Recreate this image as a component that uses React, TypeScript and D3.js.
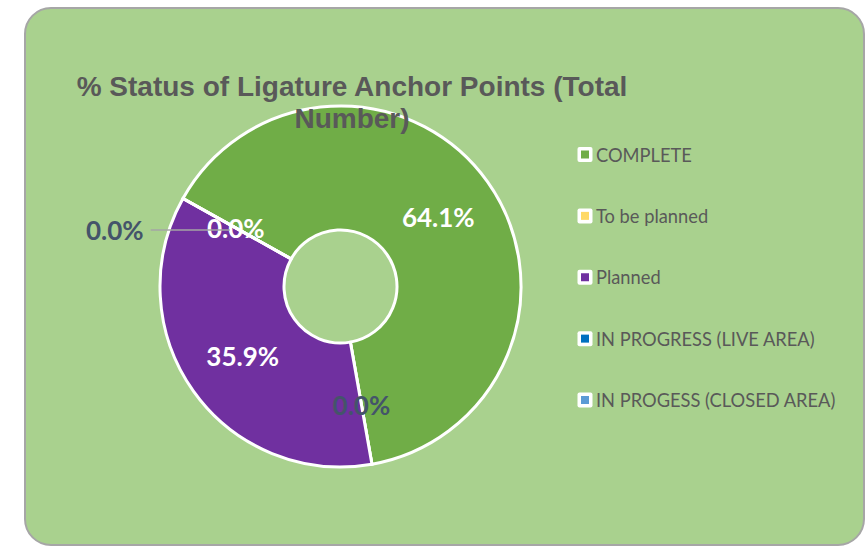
import React from "react";
import * as d3 from "d3";

const categories = ["COMPLETE", "To be planned", "Planned", "IN PROGRESS (LIVE AREA)", "IN PROGESS (CLOSED AREA)"];
const counts = [25, 0, 14, 0, 0];
const colors = ["#70AD47", "#FFD966", "#7030A0", "#0070C0", "#5B9BD5"];
const labelColors = ["#FFFFFF", "#44546A", "#FFFFFF", "#FFFFFF", "#44546A"];
const titleLines = ["% Status of Ligature Anchor Points (Total", "Number)"];

const W = 866, H = 547;
const cx = 340.5, cy = 286.5, rOuter = 180.5, rInner = 56.5;
const startDeg = 299.2;

export default function App() {
  const total = d3.sum(counts);
  const pie = d3.pie<number>().sort(null).value(d => d)
    .startAngle((startDeg * Math.PI) / 180)
    .endAngle((startDeg * Math.PI) / 180 + 2 * Math.PI);
  const arcs = pie(counts);
  const arcGen = d3.arc<d3.PieArcDatum<number>>().innerRadius(rInner).outerRadius(rOuter);
  const labelArc = d3.arc<d3.PieArcDatum<number>>().innerRadius(120).outerRadius(120);
  const fmt = (v: number) => d3.format(".1%")(total ? v / total : 0);

  const legendY = d3.scalePoint<string>().domain(categories).range([154.5, 400]);

  return (
    <svg width={W} height={H} style={{ position: "absolute", left: 0, top: 0 }}>
      <rect x={25} y={8} width={839} height={537} rx={26} ry={26} fill="#A9D18E" stroke="#A6A6A6" strokeWidth={2} />
      <g transform={`translate(${cx},${cy})`}>
        {arcs.map((a, i) => (
          <path key={i} d={arcGen(a) || ""} fill={colors[i]} stroke="#FFFFFF" strokeWidth={3} />
        ))}
      </g>
      {titleLines.map((t, i) => (
        <text key={i} x={352} y={96 + i * 32} textAnchor="middle" fontFamily="'Liberation Sans', Arial, sans-serif"
          fontWeight="bold" fontSize={28} fill="#595959">{t}</text>
      ))}
      {arcs.map((a, i) => {
        const [lx, ly] = labelArc.centroid(a);
        const px = cx + lx, py = cy + ly;
        const pulled = i === 4;
        const tx = pulled ? px - 121 : px;
        const ty = pulled ? py + 2 : py;
        return (
          <g key={i}>
            {pulled && <line x1={tx + 36} y1={ty} x2={px - 6} y2={ty} stroke="#A5A5A5" strokeWidth={1.5} />}
            <text x={tx} y={ty} textAnchor="middle" dominantBaseline="central" fontFamily="Lato, 'Open Sans', sans-serif"
              fontWeight="bold" fontSize={26} fill={labelColors[i]}>{fmt(counts[i])}</text>
          </g>
        );
      })}
      {categories.map((c, i) => {
        const y = legendY(c) as number;
        return (
          <g key={c}>
            <rect x={577.5} y={y - 7.5} width={15} height={15} rx={2} fill="#FFFFFF" />
            <rect x={581} y={y - 4} width={8} height={8} fill={colors[i]} />
            <text x={596} y={y} dominantBaseline="central" fontFamily="Lato, sans-serif" fontSize={18.3} fill="#595959">{c}</text>
          </g>
        );
      })}
    </svg>
  );
}
